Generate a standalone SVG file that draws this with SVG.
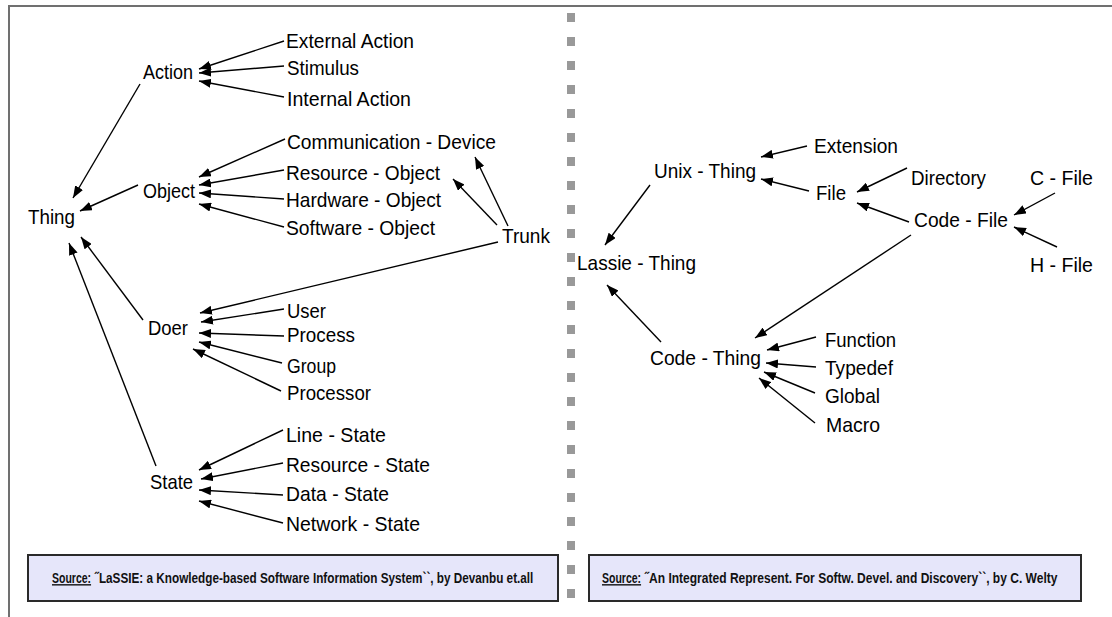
<svg xmlns="http://www.w3.org/2000/svg" width="1112" height="617" viewBox="0 0 1112 617">
  <style>
    .lbl { font-family: "Liberation Sans", Arial, sans-serif; font-size: 21px; fill: #000; }
    .src { font-family: "Liberation Sans", Arial, sans-serif; font-size: 14px; font-weight: bold; fill: #111; }
    .src-key { text-decoration: underline; }
    .edge { stroke: #000; stroke-width: 1.4; fill: none; marker-end: url(#arr); }
    .frame { stroke: #707070; stroke-width: 2; fill: none; }
    .box { fill: #e6e6fa; stroke: #2a2a2a; stroke-width: 2; }
  </style>
  <defs>
    <marker id="arr" markerUnits="userSpaceOnUse" markerWidth="13" markerHeight="9" refX="12" refY="4.5" orient="auto">
      <path d="M0,0 L12,4.5 L0,9 z" fill="#000"/>
    </marker>
  </defs>

  <rect width="1112" height="617" fill="#fff"/>

  <!-- page frame -->
  <path class="frame" d="M9,617 V6 H1112"/>

  <!-- dotted divider between the two panels -->
  <line x1="571" y1="13" x2="571" y2="600" stroke="#999" stroke-width="8" stroke-dasharray="9 15"/>

  <!-- connectors -->
  <g id="connectors">
    <!-- left panel: LaSSIE -->
    <line class="edge" x1="284" y1="41" x2="199" y2="69"/>
    <line class="edge" x1="284" y1="66" x2="199" y2="73"/>
    <line class="edge" x1="284" y1="97" x2="199" y2="81"/>
    <line class="edge" x1="285" y1="139" x2="199" y2="177"/>
    <line class="edge" x1="284" y1="170" x2="199" y2="185"/>
    <line class="edge" x1="284" y1="199" x2="199" y2="193"/>
    <line class="edge" x1="284" y1="227" x2="199" y2="204"/>
    <line class="edge" x1="508" y1="226" x2="475" y2="157"/>
    <line class="edge" x1="497" y1="225" x2="453" y2="179"/>
    <line class="edge" x1="498" y1="242" x2="200" y2="313"/>
    <line class="edge" x1="140" y1="84" x2="73" y2="198"/>
    <line class="edge" x1="138" y1="185" x2="80" y2="211"/>
    <line class="edge" x1="143" y1="320" x2="81" y2="237"/>
    <line class="edge" x1="156" y1="466" x2="69" y2="243"/>
    <line class="edge" x1="284" y1="309" x2="201" y2="322"/>
    <line class="edge" x1="284" y1="336" x2="199" y2="333"/>
    <line class="edge" x1="282" y1="363" x2="199" y2="342"/>
    <line class="edge" x1="281" y1="391" x2="193" y2="349"/>
    <line class="edge" x1="283" y1="430" x2="199" y2="470"/>
    <line class="edge" x1="283" y1="463" x2="201" y2="479"/>
    <line class="edge" x1="283" y1="495" x2="199" y2="490"/>
    <line class="edge" x1="283" y1="523" x2="199" y2="501"/>
    <!-- right panel: Welty -->
    <line class="edge" x1="807" y1="146" x2="761" y2="157"/>
    <line class="edge" x1="809" y1="191" x2="761" y2="179"/>
    <line class="edge" x1="907" y1="168" x2="857" y2="192"/>
    <line class="edge" x1="909" y1="222" x2="857" y2="203"/>
    <line class="edge" x1="1055" y1="193" x2="1014" y2="215"/>
    <line class="edge" x1="1057" y1="247" x2="1014" y2="227"/>
    <line class="edge" x1="650" y1="185" x2="605" y2="245"/>
    <line class="edge" x1="661" y1="342" x2="607" y2="285"/>
    <line class="edge" x1="911" y1="235" x2="755" y2="338"/>
    <line class="edge" x1="816" y1="337" x2="767" y2="350"/>
    <line class="edge" x1="816" y1="367" x2="766" y2="363"/>
    <line class="edge" x1="815" y1="393" x2="764" y2="372"/>
    <line class="edge" x1="815" y1="423" x2="759" y2="378"/>
  </g>

  <!-- left panel nodes -->
  <g id="n-thing"><text class="lbl" x="28" y="224" textLength="47" lengthAdjust="spacingAndGlyphs">Thing</text></g>
  <g id="n-action"><text class="lbl" x="143" y="79" textLength="50" lengthAdjust="spacingAndGlyphs">Action</text></g>
  <g id="n-external-action"><text class="lbl" x="286" y="48" textLength="128" lengthAdjust="spacingAndGlyphs">External Action</text></g>
  <g id="n-stimulus"><text class="lbl" x="287" y="75" textLength="72" lengthAdjust="spacingAndGlyphs">Stimulus</text></g>
  <g id="n-internal-action"><text class="lbl" x="287" y="106" textLength="124" lengthAdjust="spacingAndGlyphs">Internal Action</text></g>
  <g id="n-object"><text class="lbl" x="143" y="198" textLength="52" lengthAdjust="spacingAndGlyphs">Object</text></g>
  <g id="n-communication-device"><text class="lbl" x="287" y="149" textLength="209" lengthAdjust="spacingAndGlyphs">Communication - Device</text></g>
  <g id="n-resource-object"><text class="lbl" x="286" y="180" textLength="154" lengthAdjust="spacingAndGlyphs">Resource - Object</text></g>
  <g id="n-hardware-object"><text class="lbl" x="286" y="207" textLength="155" lengthAdjust="spacingAndGlyphs">Hardware - Object</text></g>
  <g id="n-software-object"><text class="lbl" x="286" y="235" textLength="149" lengthAdjust="spacingAndGlyphs">Software - Object</text></g>
  <g id="n-trunk"><text class="lbl" x="502" y="243" textLength="48" lengthAdjust="spacingAndGlyphs">Trunk</text></g>
  <g id="n-doer"><text class="lbl" x="148" y="335" textLength="40" lengthAdjust="spacingAndGlyphs">Doer</text></g>
  <g id="n-user"><text class="lbl" x="287" y="318" textLength="39" lengthAdjust="spacingAndGlyphs">User</text></g>
  <g id="n-process"><text class="lbl" x="287" y="342" textLength="68" lengthAdjust="spacingAndGlyphs">Process</text></g>
  <g id="n-group"><text class="lbl" x="287" y="373" textLength="49" lengthAdjust="spacingAndGlyphs">Group</text></g>
  <g id="n-processor"><text class="lbl" x="287" y="400" textLength="84" lengthAdjust="spacingAndGlyphs">Processor</text></g>
  <g id="n-state"><text class="lbl" x="150" y="489" textLength="43" lengthAdjust="spacingAndGlyphs">State</text></g>
  <g id="n-line-state"><text class="lbl" x="286" y="442" textLength="100" lengthAdjust="spacingAndGlyphs">Line - State</text></g>
  <g id="n-resource-state"><text class="lbl" x="286" y="472" textLength="144" lengthAdjust="spacingAndGlyphs">Resource - State</text></g>
  <g id="n-data-state"><text class="lbl" x="286" y="501" textLength="103" lengthAdjust="spacingAndGlyphs">Data - State</text></g>
  <g id="n-network-state"><text class="lbl" x="286" y="531" textLength="134" lengthAdjust="spacingAndGlyphs">Network - State</text></g>

  <!-- right panel nodes -->
  <g id="n-lassie-thing"><text class="lbl" x="577" y="270" textLength="119" lengthAdjust="spacingAndGlyphs">Lassie - Thing</text></g>
  <g id="n-unix-thing"><text class="lbl" x="654" y="178" textLength="102" lengthAdjust="spacingAndGlyphs">Unix - Thing</text></g>
  <g id="n-extension"><text class="lbl" x="814" y="153" textLength="84" lengthAdjust="spacingAndGlyphs">Extension</text></g>
  <g id="n-file"><text class="lbl" x="816" y="200" textLength="30" lengthAdjust="spacingAndGlyphs">File</text></g>
  <g id="n-directory"><text class="lbl" x="911" y="185" textLength="75" lengthAdjust="spacingAndGlyphs">Directory</text></g>
  <g id="n-code-file"><text class="lbl" x="914" y="227" textLength="94" lengthAdjust="spacingAndGlyphs">Code - File</text></g>
  <g id="n-c-file"><text class="lbl" x="1030" y="185" textLength="63" lengthAdjust="spacingAndGlyphs">C - File</text></g>
  <g id="n-h-file"><text class="lbl" x="1030" y="272" textLength="63" lengthAdjust="spacingAndGlyphs">H - File</text></g>
  <g id="n-code-thing"><text class="lbl" x="650" y="365" textLength="111" lengthAdjust="spacingAndGlyphs">Code - Thing</text></g>
  <g id="n-function"><text class="lbl" x="825" y="347" textLength="71" lengthAdjust="spacingAndGlyphs">Function</text></g>
  <g id="n-typedef"><text class="lbl" x="825" y="375" textLength="68" lengthAdjust="spacingAndGlyphs">Typedef</text></g>
  <g id="n-global"><text class="lbl" x="825" y="403" textLength="55" lengthAdjust="spacingAndGlyphs">Global</text></g>
  <g id="n-macro"><text class="lbl" x="826" y="432" textLength="54" lengthAdjust="spacingAndGlyphs">Macro</text></g>

  <!-- source notes (condensed horizontally) -->
  <g id="src-left">
    <rect class="box" x="28" y="555" width="530" height="46"/>
    <text class="src src-key" transform="translate(52,583) scale(0.75,1)">Source:</text>
    <text class="src" transform="translate(95,583) scale(0.84,1)">˝LaSSIE: a Knowledge-based Software Information System``, by Devanbu et.all</text>
  </g>
  <g id="src-right">
    <rect class="box" x="589" y="555" width="492" height="46"/>
    <text class="src src-key" transform="translate(602,583) scale(0.75,1)">Source:</text>
    <text class="src" transform="translate(645,583) scale(0.86,1)">˝An Integrated Represent. For Softw. Devel. and Discovery``, by C. Welty</text>
  </g>
</svg>
